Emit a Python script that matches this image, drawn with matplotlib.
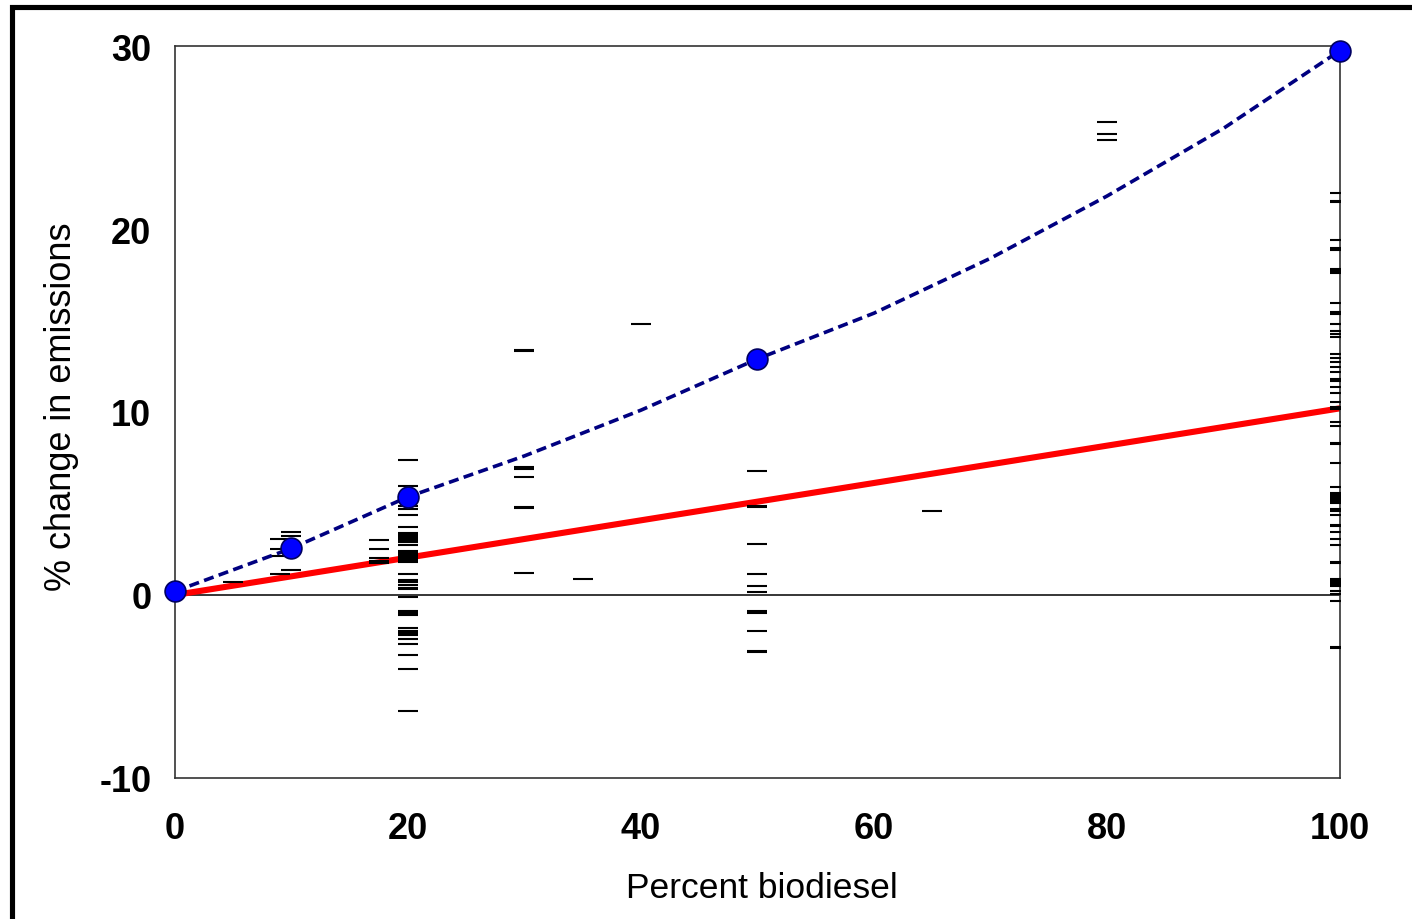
import matplotlib.pyplot as plt
from matplotlib.patches import Rectangle

plt.rcParams['font.family'] = ['Liberation Sans', 'DejaVu Sans']
plt.rcParams['axes.unicode_minus'] = False

# individual test results (% change in emissions) by blend level
b5 = [0.7]
b9 = [3.06, 2.51, 2.15, 1.15]
b10 = [3.43, 3.22, 2.55, 1.37]
b17 = [3.0, 2.5, 2.0, 1.85, 1.75]
b20 = [7.35, 5.97, 5.35, 4.85, 4.7, 4.37, 3.7, 3.4, 3.3, 3.2, 3.1, 3.0, 2.9,
       2.73, 2.4, 2.3, 2.2, 2.1, 2.0, 1.9, 1.8, 1.15, 0.8, 0.7, 0.55, 0.4,
       0.3, -0.1, -0.85, -1.0, -1.1, -1.8, -1.95, -2.1, -2.2, -2.4, -2.68,
       -3.26, -4.04, -6.32]
b30 = [13.38, 13.32, 6.97, 6.91, 6.43, 4.82, 4.76, 1.18]
b35 = [0.9]
b40 = [14.8]
b50 = [6.79, 4.87, 4.8, 2.77, 1.17, 0.51, 0.15, -0.9, -1.0, -1.95, -3.06,
       -3.14]
b65 = [4.6]
b80 = [25.83, 25.19, 24.88]
b100 = [21.97, 21.55, 21.45, 19.42, 18.95, 18.85, 17.8, 17.7, 17.6, 15.96,
        15.45, 15.35, 14.81, 14.4, 14.25, 14.1, 13.17, 12.93, 12.71, 12.44,
        12.17, 11.8, 11.7, 11.35, 11.04, 10.56, 10.25, 10.15, 9.44, 9.22,
        8.32, 8.25, 7.2, 5.89, 5.55, 5.45, 5.35, 5.25, 5.15, 5.05, 4.68, 4.6,
        4.37, 3.85, 3.75, 3.43, 3.06, 2.75, 1.82, 1.75, 0.9, 0.8, 0.7, 0.6,
        0.5, 0.24, 0.05, -0.35, -2.82, -2.9]

blend_groups = {5: b5, 9: b9, 10: b10, 17.5: b17, 20: b20, 30: b30, 35: b35,
                40: b40, 50: b50, 65: b65, 80: b80, 100: b100}

# average points and the curve through them
avg_x = [0, 10, 20, 50, 100]
avg_y = [0.2, 2.55, 5.36, 12.9, 29.75]
curve_x = [0, 10, 20, 30, 40, 50, 60, 70, 80, 90, 100]
curve_y = [0.2, 2.55, 5.36, 7.6, 10.1, 12.9, 15.4, 18.4, 21.8, 25.5, 29.75]

# linear fit
fit_x = [0, 100]
fit_y = [0.0, 10.2]

fig = plt.figure(figsize=(14.12, 9.2), dpi=100)
ax = fig.add_axes([0.1239, 0.1533, 0.8251, 0.7956])

ax.axhline(0, color='black', lw=1.1, zorder=1)
ax.plot(fit_x, fit_y, color='#ff0000', lw=4.4, zorder=2)

for bx, vals in blend_groups.items():
    ax.plot([bx] * len(vals), vals, ls='none', marker='_', ms=13.7,
            mew=1.5, color='black', zorder=3)

ax.plot(curve_x, curve_y, color='#000080', lw=2.6, dashes=(2.8, 1.5),
        zorder=4, clip_on=False)
ax.plot(avg_x, avg_y, ls='none', marker='o', ms=15, mfc='#0000ff',
        mec='#000060', mew=1.2, zorder=5, clip_on=False)

ax.set_xlim(0, 100)
ax.set_ylim(-10, 30)
ax.set_xticks([0, 20, 40, 60, 80, 100])
ax.set_yticks([-10, 0, 10, 20, 30])
ax.tick_params(axis='x', length=0, pad=24, labelsize=26)
ax.tick_params(axis='y', length=0, pad=17, labelsize=26)
for lab in ax.get_xticklabels() + ax.get_yticklabels():
    lab.set_fontweight('bold')

for sp in ax.spines.values():
    sp.set_linewidth(1.2)
    sp.set_color('#333333')

ax.set_xlabel('Percent biodiesel', fontsize=25.5)
ax.set_ylabel('% change in emissions', fontsize=26)
ax.xaxis.set_label_coords(0.504, -0.150)
ax.xaxis.label.set_va('center')
ax.yaxis.set_label_coords(-0.097, 0.508)
ax.yaxis.label.set_va('center')

# outer frame (only left and top edges visible in the picture)
fig.patches.append(Rectangle((12 / 1412, -1), 10, 2 - 8.3 / 920,
                             transform=fig.transFigure, fill=False,
                             lw=3.7, edgecolor='black'))

plt.savefig('out.png', dpi=100)
